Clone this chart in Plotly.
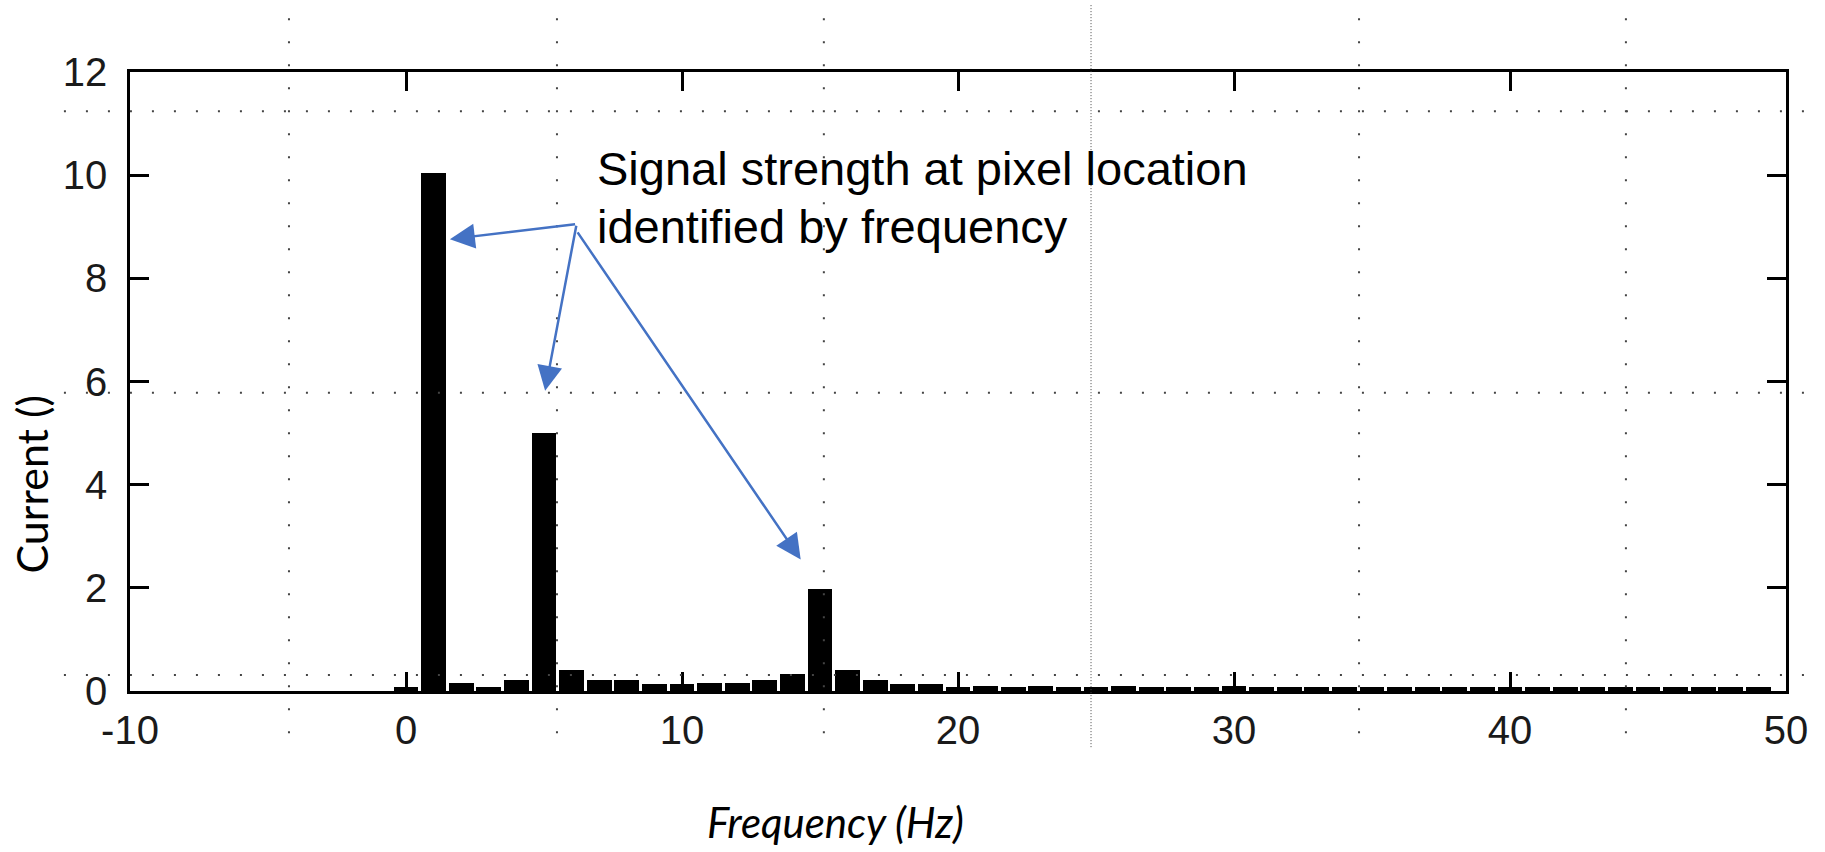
import plotly.graph_objects as go

# Spectrum of the sensed current, one bar per 1 Hz bin
frequency_hz = list(range(0, 50))
current = [
    0.07, 10.05, 0.15, 0.07, 0.21, 5.00, 0.40, 0.22, 0.22, 0.14,
    0.14, 0.15, 0.15, 0.22, 0.33, 1.98, 0.40, 0.22, 0.14, 0.13,
    0.07, 0.09, 0.08, 0.09, 0.08, 0.08, 0.09, 0.08, 0.08, 0.08,
    0.09, 0.08, 0.08, 0.07, 0.08, 0.08, 0.08, 0.07, 0.08, 0.08,
    0.07, 0.08, 0.08, 0.07, 0.07, 0.08, 0.07, 0.07, 0.07, 0.07,
]

x_ticks = [-10, 0, 10, 20, 30, 40, 50]
x_tick_labels = ["-10", "0", "10", "20", "30", "40", "50"]
y_ticks = [0, 2, 4, 6, 8, 10, 12]

# Peaks pointed at by the callout (frequency, height reached by the arrow tip)
callout_tips = [(1.59, 8.76), (5.04, 5.82), (14.30, 2.55)]
callout_tails = [(6.18, 9.05), (6.18, 9.05), (6.18, 8.92)]

tick_font = dict(family="Liberation Sans Narrow, Arial Narrow, Liberation Sans, Arial",
                 size=40, color="#1a1a1a")
label_font = "Lato, Carlito, Calibri, Open Sans, sans-serif"
arrow_blue = "#4472C4"

fig = go.Figure(
    go.Bar(
        x=frequency_hz,
        y=current,
        width=0.9,
        marker=dict(color="black", line=dict(width=0)),
        hoverinfo="x+y",
    )
)

axis_common = dict(
    showline=True, linewidth=2.5, linecolor="black", mirror="ticks",
    ticks="inside", ticklen=19, tickwidth=2.5, tickcolor="black",
    showgrid=False, zeroline=False, tickfont=tick_font,
)

fig.update_xaxes(range=[-10, 50], tickvals=x_ticks, ticktext=x_tick_labels,
                 ticklabelstandoff=2, **axis_common)
fig.update_yaxes(range=[0, 12], tickvals=y_ticks, ticklabelstandoff=12, **axis_common)

annotations = [
    dict(text="Current ()", xref="paper", yref="paper", x=-0.0596, y=0.334,
         textangle=-90, showarrow=False, xanchor="center", yanchor="middle",
         font=dict(family=label_font, size=43, color="black")),
    dict(text="<i>Frequency (Hz)</i>", xref="paper", yref="paper", x=0.4263, y=-0.212,
         showarrow=False, xanchor="center", yanchor="middle",
         font=dict(family=label_font, size=42, color="black")),
    dict(text="Signal strength at pixel location", xref="paper", yref="paper",
         x=0.281, y=0.8433, showarrow=False, xanchor="left", yanchor="middle",
         font=dict(family="Liberation Sans, Arial, sans-serif", size=47, color="black")),
    dict(text="identified by frequency", xref="paper", yref="paper",
         x=0.281, y=0.7496, showarrow=False, xanchor="left", yanchor="middle",
         font=dict(family="Liberation Sans, Arial, sans-serif", size=47, color="black")),
]
for (tx, ty), (sx, sy) in zip(callout_tips, callout_tails):
    annotations.append(dict(
        x=tx, y=ty, ax=sx, ay=sy, xref="x", yref="y", axref="x", ayref="y",
        text="", showarrow=True, arrowhead=2, arrowsize=2.0, arrowwidth=2.5,
        arrowcolor=arrow_blue, standoff=0, startstandoff=0,
    ))

# Dotted guide grid laid over the figure
shapes = []
for gx in [-4.24, 5.47, 15.14, 34.53, 44.20]:
    shapes.append(dict(type="line", xref="x", yref="paper", x0=gx, x1=gx, y0=1.087, y1=-0.095,
                       line=dict(color="#444", width=2, dash="2px,21px"), layer="above"))
shapes.append(dict(type="line", xref="x", yref="paper", x0=24.82, x1=24.82, y0=1.108, y1=-0.092,
                   line=dict(color="#444", width=1, dash="1px,2px"), layer="above"))
for gy in [11.24, 5.78, 0.31]:
    shapes.append(dict(type="line", xref="paper", yref="y", x0=-0.0399, x1=1.0139, y0=gy, y1=gy,
                       line=dict(color="#444", width=2, dash="2px,20px"), layer="above"))

fig.update_layout(
    width=1825, height=852,
    margin=dict(l=130, r=39, t=72, b=161),
    paper_bgcolor="white", plot_bgcolor="white",
    showlegend=False, bargap=0,
    annotations=annotations, shapes=shapes,
)

fig.write_html("out.html")
